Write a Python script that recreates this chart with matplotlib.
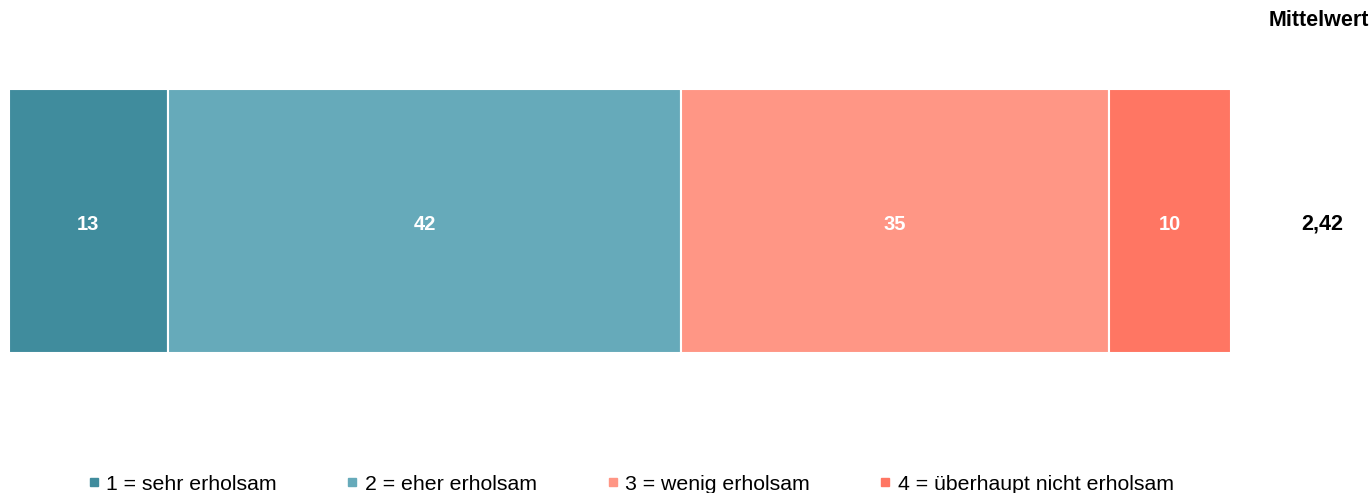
import matplotlib
matplotlib.use("Agg")
import matplotlib.pyplot as plt
from matplotlib.lines import Line2D

plt.rcParams['font.family'] = ['Liberation Sans', 'DejaVu Sans']

# data
categories = ["1 = sehr erholsam", "2 = eher erholsam",
              "3 = wenig erholsam", "4 = überhaupt nicht erholsam"]
values = [13, 42, 35, 10]
mean_label = "2,42"
colors = ["#408C9D", "#66AABA", "#FF9685", "#FF7663"]

W, H = 1371, 493
fig = plt.figure(figsize=(W / 100, H / 100), dpi=100)
ax = fig.add_axes([9 / W, (H - 353) / H, 1222 / W, 264 / H])

left = 0
for val, col, cat in zip(values, colors, categories):
    ax.barh(0, val, left=left, height=1, color=col, edgecolor="white",
            linewidth=1.5, label=cat)
    ax.text(left + val / 2, -0.015, str(val), ha="center", va="center",
            color="white", fontsize=14.5, fontweight="bold")
    left += val

ax.set_xlim(0, sum(values))
ax.set_ylim(-0.5, 0.5)
ax.axis("off")

# Mittelwert column
fig.text(1369 / W, 1 - 21 / H, "Mittelwert", ha="right", va="center",
         fontsize=15.5, fontweight="bold")
fig.text(1322 / W, 1 - 224 / H, mean_label, ha="center", va="center",
         fontsize=15.5, fontweight="bold")

handles = [Line2D([], [], marker="s", linestyle="none", markersize=6,
                  markerfacecolor=c, markeredgecolor=c) for c in colors]
fig.legend(handles, categories, loc="lower center", ncol=4,
           bbox_to_anchor=(0.46, -0.04), frameon=False, fontsize=15.3,
           handlelength=0.6, handletextpad=0.3, columnspacing=3.25)

fig.savefig("out.png", dpi=100)
